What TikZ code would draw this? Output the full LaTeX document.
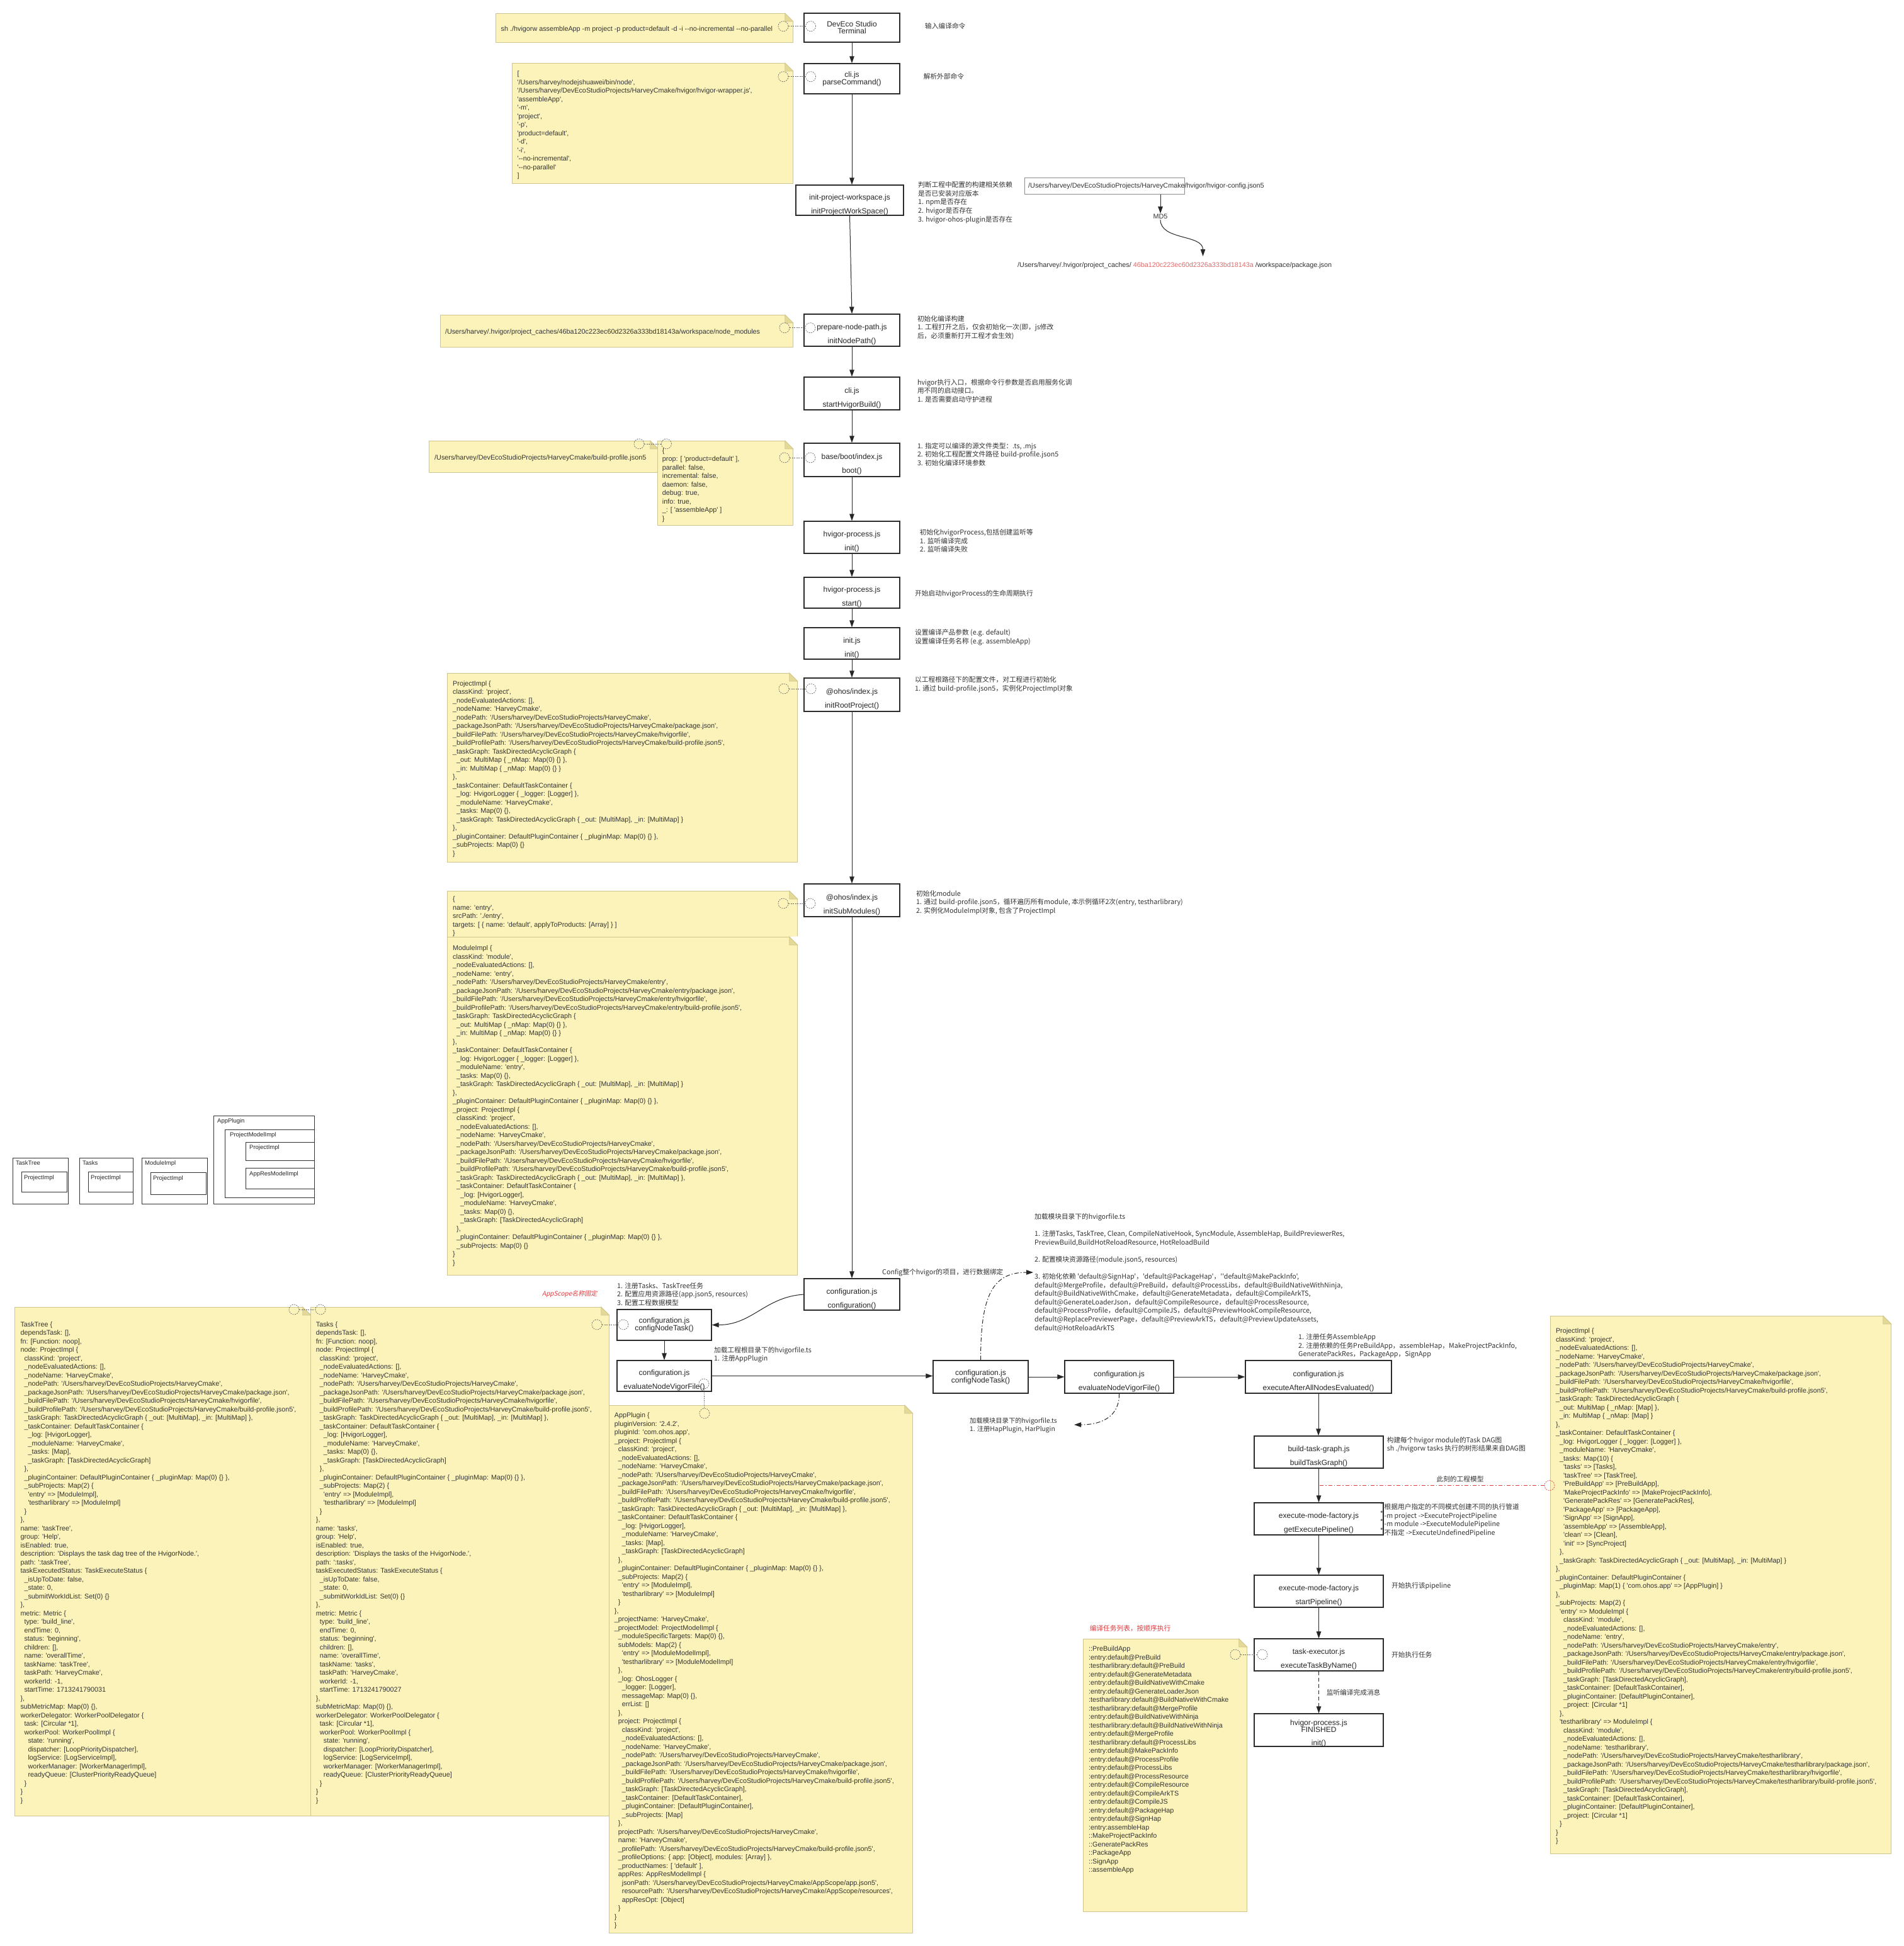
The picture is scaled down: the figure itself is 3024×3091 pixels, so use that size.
\documentclass[tikz,border=0pt]{standalone}
\usepackage{fontspec}
\newfontfamily\nf{Liberation Sans}
\newfontfamily\cjk{Noto Sans CJK SC}
\newfontfamily\cjki{Noto Sans CJK SC}[FakeSlant=0.2]
\usetikzlibrary{arrows.meta,calc}
\definecolor{notefill}{HTML}{FBF3BA}
\definecolor{noteedge}{HTML}{CFC58E}
\definecolor{notefold}{HTML}{E4D996}
\definecolor{boxc}{HTML}{2B2B2B}
\definecolor{redc}{HTML}{E0393E}
\definecolor{hashc}{HTML}{E26A6A}
\newcommand\ind{\hspace*{6pt}}
\newcommand\lo{\rule{0pt}{23pt}}
\tikzset{
 box/.style={draw=boxc, line width=1.3pt, fill=white, inner sep=0pt, align=center, font=\fontsize{12}{13}\nf, text=black!85},
 tight/.style={font=\fontsize{12}{11}\nf},
 notebg/.style={draw=noteedge, line width=0.8pt, fill=notefill, inner sep=0pt, rectangle},
 notetext/.style={anchor=north west, inner sep=0pt, align=left, font=\fontsize{10.8}{13.5}\nf, text=black!80},
 lbl/.style={anchor=north west, inner sep=0pt, align=left, font=\fontsize{10.7}{13.6}\cjk, text=black!80},
 arr/.style={draw=black!85, line width=1pt, -{Triangle[length=11pt,width=7.5pt]}},
 attach/.style={circle, draw=black!60, line width=0.7pt, dash pattern=on 2pt off 1.5pt, minimum size=16pt, inner sep=0pt},
 attline/.style={draw=black!60, line width=0.7pt, dash pattern=on 2pt off 1.5pt},
 dashdot/.style={draw=black!85, line width=1pt, dash pattern=on 7pt off 3pt on 1.5pt off 3pt},
 sbox/.style={draw=black!80, line width=0.9pt, fill=white, inner sep=0pt, rectangle},
 stitle/.style={anchor=north west, inner sep=0pt, font=\fontsize{9.5}{11}\nf, text=black!85},
}
% note background: name, x1, y1, x2, y2
\newcommand\notebox[5]{%
 \node[notebg, anchor=north west, minimum width={#4-#2}, minimum height={#5-#3}] (#1) at (#2,#3) {};
 \fill[white] ([xshift=-13pt]#1.north east) -- ([xshift=1pt,yshift=1pt]#1.north east) -- ([yshift=-13pt]#1.north east) -- cycle;
 \filldraw[fill=notefold, draw=noteedge, line width=0.8pt] ([xshift=-13pt]#1.north east) -- ([xshift=-13pt,yshift=-13pt]#1.north east) -- ([yshift=-13pt]#1.north east) -- cycle;
}
\begin{document}
\begin{tikzpicture}[x=1pt,y=-1pt]
\useasboundingbox (0,0) rectangle (3024,3091);
\fill[white] (0,0) rectangle (3024,3091);

% ================= notes =================
\notebox{nA}{787}{21}{1259}{67}
\node[notetext] (nAt) at (795.5,39.5) {\strut sh ./hvigorw assembleApp -m project -p product=default -d -i --no-incremental --no-parallel};

\notebox{nB}{813}{100}{1259}{291}
\node[notetext] (nBt) at (821.3,111) {\strut[\\
'/Users/harvey/nodejshuawei/bin/node',\\
'/Users/harvey/DevEcoStudioProjects/HarveyCmake/hvigor/hvigor-wrapper.js',\\
'assembleApp',\\
'-m',\\
'project',\\
'-p',\\
'product=default',\\
'-d',\\
'-i',\\
'--no-incremental',\\
'--no-parallel'\\
]};

\notebox{nC}{699}{500}{1259}{551}
\node[notetext] (nCt) at (706.8,521) {\strut/Users/harvey/.hvigor/project\_caches/46ba120c223ec60d2326a333bd18143a/workspace/node\_modules};

\notebox{nD}{681}{700}{1045}{750}
\node[notetext] (nDt) at (690,721) {\strut/Users/harvey/DevEcoStudioProjects/HarveyCmake/build-profile.json5};

\notebox{nE}{1044}{700}{1259}{834}
\node[notetext] (nEt) at (1051.7,709.5) {\strut\{\\
prop: [ 'product=default' ],\\
parallel: false,\\
incremental: false,\\
daemon: false,\\
debug: true,\\
info: true,\\
\_: [ 'assembleApp' ]\\
\}};

\notebox{nF}{710}{1069}{1266}{1369}
\node[notetext] (nFt) at (719,1079.5) {\strut ProjectImpl \{\\
classKind: 'project',\\
\_nodeEvaluatedActions: [],\\
\_nodeName: 'HarveyCmake',\\
\_nodePath: '/Users/harvey/DevEcoStudioProjects/HarveyCmake',\\
\_packageJsonPath: '/Users/harvey/DevEcoStudioProjects/HarveyCmake/package.json',\\
\_buildFilePath: '/Users/harvey/DevEcoStudioProjects/HarveyCmake/hvigorfile',\\
\_buildProfilePath: '/Users/harvey/DevEcoStudioProjects/HarveyCmake/build-profile.json5',\\
\_taskGraph: TaskDirectedAcyclicGraph \{\\
\ind\_out: MultiMap \{ \_nMap: Map(0) \{\} \},\\
\ind\_in: MultiMap \{ \_nMap: Map(0) \{\} \}\\
\},\\
\_taskContainer: DefaultTaskContainer \{\\
\ind\_log: HvigorLogger \{ \_logger: [Logger] \},\\
\ind\_moduleName: 'HarveyCmake',\\
\ind\_tasks: Map(0) \{\},\\
\ind\_taskGraph: TaskDirectedAcyclicGraph \{ \_out: [MultiMap], \_in: [MultiMap] \}\\
\},\\
\_pluginContainer: DefaultPluginContainer \{ \_pluginMap: Map(0) \{\} \},\\
\_subProjects: Map(0) \{\}\\
\}};

\notebox{nG}{710}{1415}{1266}{1488}
\node[notetext] (nGt) at (719,1422) {\strut\{\\
name: 'entry',\\
srcPath: './entry',\\
targets: [ \{ name: 'default', applyToProducts: [Array] \} ]\\
\}};

\notebox{nH}{710}{1488}{1266}{2025}
\node[notetext] (nHt) at (719,1500) {\strut ModuleImpl \{\\
classKind: 'module',\\
\_nodeEvaluatedActions: [],\\
\_nodeName: 'entry',\\
\_nodePath: '/Users/harvey/DevEcoStudioProjects/HarveyCmake/entry',\\
\_packageJsonPath: '/Users/harvey/DevEcoStudioProjects/HarveyCmake/entry/package.json',\\
\_buildFilePath: '/Users/harvey/DevEcoStudioProjects/HarveyCmake/entry/hvigorfile',\\
\_buildProfilePath: '/Users/harvey/DevEcoStudioProjects/HarveyCmake/entry/build-profile.json5',\\
\_taskGraph: TaskDirectedAcyclicGraph \{\\
\ind\_out: MultiMap \{ \_nMap: Map(0) \{\} \},\\
\ind\_in: MultiMap \{ \_nMap: Map(0) \{\} \}\\
\},\\
\_taskContainer: DefaultTaskContainer \{\\
\ind\_log: HvigorLogger \{ \_logger: [Logger] \},\\
\ind\_moduleName: 'entry',\\
\ind\_tasks: Map(0) \{\},\\
\ind\_taskGraph: TaskDirectedAcyclicGraph \{ \_out: [MultiMap], \_in: [MultiMap] \}\\
\},\\
\_pluginContainer: DefaultPluginContainer \{ \_pluginMap: Map(0) \{\} \},\\
\_project: ProjectImpl \{\\
\ind classKind: 'project',\\
\ind\_nodeEvaluatedActions: [],\\
\ind\_nodeName: 'HarveyCmake',\\
\ind\_nodePath: '/Users/harvey/DevEcoStudioProjects/HarveyCmake',\\
\ind\_packageJsonPath: '/Users/harvey/DevEcoStudioProjects/HarveyCmake/package.json',\\
\ind\_buildFilePath: '/Users/harvey/DevEcoStudioProjects/HarveyCmake/hvigorfile',\\
\ind\_buildProfilePath: '/Users/harvey/DevEcoStudioProjects/HarveyCmake/build-profile.json5',\\
\ind\_taskGraph: TaskDirectedAcyclicGraph \{ \_out: [MultiMap], \_in: [MultiMap] \},\\
\ind\_taskContainer: DefaultTaskContainer \{\\
\ind\ind\_log: [HvigorLogger],\\
\ind\ind\_moduleName: 'HarveyCmake',\\
\ind\ind\_tasks: Map(0) \{\},\\
\ind\ind\_taskGraph: [TaskDirectedAcyclicGraph]\\
\ind\},\\
\ind\_pluginContainer: DefaultPluginContainer \{ \_pluginMap: Map(0) \{\} \},\\
\ind\_subProjects: Map(0) \{\}\\
\}\\
\}};

\notebox{nI}{23}{2076}{493}{2884}
\node[notetext] (nIt) at (32.3,2097.4) {\strut TaskTree \{\\
dependsTask: [],\\
fn: [Function: noop],\\
node: ProjectImpl \{\\
\ind classKind: 'project',\\
\ind\_nodeEvaluatedActions: [],\\
\ind\_nodeName: 'HarveyCmake',\\
\ind\_nodePath: '/Users/harvey/DevEcoStudioProjects/HarveyCmake',\\
\ind\_packageJsonPath: '/Users/harvey/DevEcoStudioProjects/HarveyCmake/package.json',\\
\ind\_buildFilePath: '/Users/harvey/DevEcoStudioProjects/HarveyCmake/hvigorfile',\\
\ind\_buildProfilePath: '/Users/harvey/DevEcoStudioProjects/HarveyCmake/build-profile.json5',\\
\ind\_taskGraph: TaskDirectedAcyclicGraph \{ \_out: [MultiMap], \_in: [MultiMap] \},\\
\ind\_taskContainer: DefaultTaskContainer \{\\
\ind\ind\_log: [HvigorLogger],\\
\ind\ind\_moduleName: 'HarveyCmake',\\
\ind\ind\_tasks: [Map],\\
\ind\ind\_taskGraph: [TaskDirectedAcyclicGraph]\\
\ind\},\\
\ind\_pluginContainer: DefaultPluginContainer \{ \_pluginMap: Map(0) \{\} \},\\
\ind\_subProjects: Map(2) \{\\
\ind\ind'entry' => [ModuleImpl],\\
\ind\ind'testharlibrary' => [ModuleImpl]\\
\ind\}\\
\},\\
name: 'taskTree',\\
group: 'Help',\\
isEnabled: true,\\
description: 'Displays the task dag tree of the HvigorNode.',\\
path: ':taskTree',\\
taskExecutedStatus: TaskExecuteStatus \{\\
\ind\_isUpToDate: false,\\
\ind\_state: 0,\\
\ind\_submitWorkIdList: Set(0) \{\}\\
\},\\
metric: Metric \{\\
\ind type: 'build\_line',\\
\ind endTime: 0,\\
\ind status: 'beginning',\\
\ind children: [],\\
\ind name: 'overallTime',\\
\ind taskName: 'taskTree',\\
\ind taskPath: 'HarveyCmake',\\
\ind workerId: -1,\\
\ind startTime: 1713241790031\\
\},\\
subMetricMap: Map(0) \{\},\\
workerDelegator: WorkerPoolDelegator \{\\
\ind task: [Circular *1],\\
\ind workerPool: WorkerPoolImpl \{\\
\ind\ind state: 'running',\\
\ind\ind dispatcher: [LoopPriorityDispatcher],\\
\ind\ind logService: [LogServiceImpl],\\
\ind\ind workerManager: [WorkerManagerImpl],\\
\ind\ind readyQueue: [ClusterPriorityReadyQueue]\\
\ind\}\\
\}\\
\}};

\notebox{nJ}{493}{2076}{967}{2884}
\node[notetext] (nJt) at (501.7,2097.4) {\strut Tasks \{\\
dependsTask: [],\\
fn: [Function: noop],\\
node: ProjectImpl \{\\
\ind classKind: 'project',\\
\ind\_nodeEvaluatedActions: [],\\
\ind\_nodeName: 'HarveyCmake',\\
\ind\_nodePath: '/Users/harvey/DevEcoStudioProjects/HarveyCmake',\\
\ind\_packageJsonPath: '/Users/harvey/DevEcoStudioProjects/HarveyCmake/package.json',\\
\ind\_buildFilePath: '/Users/harvey/DevEcoStudioProjects/HarveyCmake/hvigorfile',\\
\ind\_buildProfilePath: '/Users/harvey/DevEcoStudioProjects/HarveyCmake/build-profile.json5',\\
\ind\_taskGraph: TaskDirectedAcyclicGraph \{ \_out: [MultiMap], \_in: [MultiMap] \},\\
\ind\_taskContainer: DefaultTaskContainer \{\\
\ind\ind\_log: [HvigorLogger],\\
\ind\ind\_moduleName: 'HarveyCmake',\\
\ind\ind\_tasks: Map(0) \{\},\\
\ind\ind\_taskGraph: [TaskDirectedAcyclicGraph]\\
\ind\},\\
\ind\_pluginContainer: DefaultPluginContainer \{ \_pluginMap: Map(0) \{\} \},\\
\ind\_subProjects: Map(2) \{\\
\ind\ind'entry' => [ModuleImpl],\\
\ind\ind'testharlibrary' => [ModuleImpl]\\
\ind\}\\
\},\\
name: 'tasks',\\
group: 'Help',\\
isEnabled: true,\\
description: 'Displays the tasks of the HvigorNode.',\\
path: ':tasks',\\
taskExecutedStatus: TaskExecuteStatus \{\\
\ind\_isUpToDate: false,\\
\ind\_state: 0,\\
\ind\_submitWorkIdList: Set(0) \{\}\\
\},\\
metric: Metric \{\\
\ind type: 'build\_line',\\
\ind endTime: 0,\\
\ind status: 'beginning',\\
\ind children: [],\\
\ind name: 'overallTime',\\
\ind taskName: 'tasks',\\
\ind taskPath: 'HarveyCmake',\\
\ind workerId: -1,\\
\ind startTime: 1713241790027\\
\},\\
subMetricMap: Map(0) \{\},\\
workerDelegator: WorkerPoolDelegator \{\\
\ind task: [Circular *1],\\
\ind workerPool: WorkerPoolImpl \{\\
\ind\ind state: 'running',\\
\ind\ind dispatcher: [LoopPriorityDispatcher],\\
\ind\ind logService: [LogServiceImpl],\\
\ind\ind workerManager: [WorkerManagerImpl],\\
\ind\ind readyQueue: [ClusterPriorityReadyQueue]\\
\ind\}\\
\}\\
\}};

\notebox{nK}{967}{2232}{1449}{3070}
\node[notetext] (nKt) at (975.7,2242) {\strut AppPlugin \{\\
pluginVersion: '2.4.2',\\
pluginId: 'com.ohos.app',\\
\_project: ProjectImpl \{\\
\ind classKind: 'project',\\
\ind\_nodeEvaluatedActions: [],\\
\ind\_nodeName: 'HarveyCmake',\\
\ind\_nodePath: '/Users/harvey/DevEcoStudioProjects/HarveyCmake',\\
\ind\_packageJsonPath: '/Users/harvey/DevEcoStudioProjects/HarveyCmake/package.json',\\
\ind\_buildFilePath: '/Users/harvey/DevEcoStudioProjects/HarveyCmake/hvigorfile',\\
\ind\_buildProfilePath: '/Users/harvey/DevEcoStudioProjects/HarveyCmake/build-profile.json5',\\
\ind\_taskGraph: TaskDirectedAcyclicGraph \{ \_out: [MultiMap], \_in: [MultiMap] \},\\
\ind\_taskContainer: DefaultTaskContainer \{\\
\ind\ind\_log: [HvigorLogger],\\
\ind\ind\_moduleName: 'HarveyCmake',\\
\ind\ind\_tasks: [Map],\\
\ind\ind\_taskGraph: [TaskDirectedAcyclicGraph]\\
\ind\},\\
\ind\_pluginContainer: DefaultPluginContainer \{ \_pluginMap: Map(0) \{\} \},\\
\ind\_subProjects: Map(2) \{\\
\ind\ind'entry' => [ModuleImpl],\\
\ind\ind'testharlibrary' => [ModuleImpl]\\
\ind\}\\
\},\\
\_projectName: 'HarveyCmake',\\
\_projectModel: ProjectModelImpl \{\\
\ind\_moduleSpecificTargets: Map(0) \{\},\\
\ind subModels: Map(2) \{\\
\ind\ind'entry' => [ModuleModelImpl],\\
\ind\ind'testharlibrary' => [ModuleModelImpl]\\
\ind\},\\
\ind\_log: OhosLogger \{\\
\ind\ind\_logger: [Logger],\\
\ind\ind messageMap: Map(0) \{\},\\
\ind\ind errList: []\\
\ind\},\\
\ind project: ProjectImpl \{\\
\ind\ind classKind: 'project',\\
\ind\ind\_nodeEvaluatedActions: [],\\
\ind\ind\_nodeName: 'HarveyCmake',\\
\ind\ind\_nodePath: '/Users/harvey/DevEcoStudioProjects/HarveyCmake',\\
\ind\ind\_packageJsonPath: '/Users/harvey/DevEcoStudioProjects/HarveyCmake/package.json',\\
\ind\ind\_buildFilePath: '/Users/harvey/DevEcoStudioProjects/HarveyCmake/hvigorfile',\\
\ind\ind\_buildProfilePath: '/Users/harvey/DevEcoStudioProjects/HarveyCmake/build-profile.json5',\\
\ind\ind\_taskGraph: [TaskDirectedAcyclicGraph],\\
\ind\ind\_taskContainer: [DefaultTaskContainer],\\
\ind\ind\_pluginContainer: [DefaultPluginContainer],\\
\ind\ind\_subProjects: [Map]\\
\ind\},\\
\ind projectPath: '/Users/harvey/DevEcoStudioProjects/HarveyCmake',\\
\ind name: 'HarveyCmake',\\
\ind\_profilePath: '/Users/harvey/DevEcoStudioProjects/HarveyCmake/build-profile.json5',\\
\ind\_profileOptions: \{ app: [Object], modules: [Array] \},\\
\ind\_productNames: [ 'default' ],\\
\ind appRes: AppResModelImpl \{\\
\ind\ind jsonPath: '/Users/harvey/DevEcoStudioProjects/HarveyCmake/AppScope/app.json5',\\
\ind\ind resourcePath: '/Users/harvey/DevEcoStudioProjects/HarveyCmake/AppScope/resources',\\
\ind\ind appResOpt: [Object]\\
\ind\}\\
\}\\
\}};

\notebox{nL}{2462}{2090}{3003}{2944}
\node[notetext] (nLt) at (2470.8,2108.2) {\strut ProjectImpl \{\\
classKind: 'project',\\
\_nodeEvaluatedActions: [],\\
\_nodeName: 'HarveyCmake',\\
\_nodePath: '/Users/harvey/DevEcoStudioProjects/HarveyCmake',\\
\_packageJsonPath: '/Users/harvey/DevEcoStudioProjects/HarveyCmake/package.json',\\
\_buildFilePath: '/Users/harvey/DevEcoStudioProjects/HarveyCmake/hvigorfile',\\
\_buildProfilePath: '/Users/harvey/DevEcoStudioProjects/HarveyCmake/build-profile.json5',\\
\_taskGraph: TaskDirectedAcyclicGraph \{\\
\ind\_out: MultiMap \{ \_nMap: [Map] \},\\
\ind\_in: MultiMap \{ \_nMap: [Map] \}\\
\},\\
\_taskContainer: DefaultTaskContainer \{\\
\ind\_log: HvigorLogger \{ \_logger: [Logger] \},\\
\ind\_moduleName: 'HarveyCmake',\\
\ind\_tasks: Map(10) \{\\
\ind\ind'tasks' => [Tasks],\\
\ind\ind'taskTree' => [TaskTree],\\
\ind\ind'PreBuildApp' => [PreBuildApp],\\
\ind\ind'MakeProjectPackInfo' => [MakeProjectPackInfo],\\
\ind\ind'GeneratePackRes' => [GeneratePackRes],\\
\ind\ind'PackageApp' => [PackageApp],\\
\ind\ind'SignApp' => [SignApp],\\
\ind\ind'assembleApp' => [AssembleApp],\\
\ind\ind'clean' => [Clean],\\
\ind\ind'init' => [SyncProject]\\
\ind\},\\
\ind\_taskGraph: TaskDirectedAcyclicGraph \{ \_out: [MultiMap], \_in: [MultiMap] \}\\
\},\\
\_pluginContainer: DefaultPluginContainer \{\\
\ind\_pluginMap: Map(1) \{ 'com.ohos.app' => [AppPlugin] \}\\
\},\\
\_subProjects: Map(2) \{\\
\ind'entry' => ModuleImpl \{\\
\ind\ind classKind: 'module',\\
\ind\ind\_nodeEvaluatedActions: [],\\
\ind\ind\_nodeName: 'entry',\\
\ind\ind\_nodePath: '/Users/harvey/DevEcoStudioProjects/HarveyCmake/entry',\\
\ind\ind\_packageJsonPath: '/Users/harvey/DevEcoStudioProjects/HarveyCmake/entry/package.json',\\
\ind\ind\_buildFilePath: '/Users/harvey/DevEcoStudioProjects/HarveyCmake/entry/hvigorfile',\\
\ind\ind\_buildProfilePath: '/Users/harvey/DevEcoStudioProjects/HarveyCmake/entry/build-profile.json5',\\
\ind\ind\_taskGraph: [TaskDirectedAcyclicGraph],\\
\ind\ind\_taskContainer: [DefaultTaskContainer],\\
\ind\ind\_pluginContainer: [DefaultPluginContainer],\\
\ind\ind\_project: [Circular *1]\\
\ind\},\\
\ind'testharlibrary' => ModuleImpl \{\\
\ind\ind classKind: 'module',\\
\ind\ind\_nodeEvaluatedActions: [],\\
\ind\ind\_nodeName: 'testharlibrary',\\
\ind\ind\_nodePath: '/Users/harvey/DevEcoStudioProjects/HarveyCmake/testharlibrary',\\
\ind\ind\_packageJsonPath: '/Users/harvey/DevEcoStudioProjects/HarveyCmake/testharlibrary/package.json',\\
\ind\ind\_buildFilePath: '/Users/harvey/DevEcoStudioProjects/HarveyCmake/testharlibrary/hvigorfile',\\
\ind\ind\_buildProfilePath: '/Users/harvey/DevEcoStudioProjects/HarveyCmake/testharlibrary/build-profile.json5',\\
\ind\ind\_taskGraph: [TaskDirectedAcyclicGraph],\\
\ind\ind\_taskContainer: [DefaultTaskContainer],\\
\ind\ind\_pluginContainer: [DefaultPluginContainer],\\
\ind\ind\_project: [Circular *1]\\
\ind\}\\
\}\\
\}};

\notebox{nM}{1720}{2603}{1980}{3036}
\node[notetext] (nMt) at (1729,2613) {\strut ::PreBuildApp\\
:entry:default@PreBuild\\
:testharlibrary:default@PreBuild\\
:entry:default@GenerateMetadata\\
:entry:default@BuildNativeWithCmake\\
:entry:default@GenerateLoaderJson\\
:testharlibrary:default@BuildNativeWithCmake\\
:testharlibrary:default@MergeProfile\\
:entry:default@BuildNativeWithNinja\\
:testharlibrary:default@BuildNativeWithNinja\\
:entry:default@MergeProfile\\
:testharlibrary:default@ProcessLibs\\
:entry:default@MakePackInfo\\
:entry:default@ProcessProfile\\
:entry:default@ProcessLibs\\
:entry:default@ProcessResource\\
:entry:default@CompileResource\\
:entry:default@CompileArkTS\\
:entry:default@CompileJS\\
:entry:default@PackageHap\\
:entry:default@SignHap\\
:entry:assembleHap\\
::MakeProjectPackInfo\\
::GeneratePackRes\\
::PackageApp\\
::SignApp\\
::assembleApp};

% ================= main column boxes =================
\node[box, tight, minimum width=152pt, minimum height=46pt] (term) at (1353,44) {DevEco Studio\\Terminal};
\node[box, tight, minimum width=152pt, minimum height=48pt] (parse) at (1353,125) {cli.js\\parseCommand()};
\node[box, minimum width=171pt, minimum height=48pt] (initws) at (1349.5,318) {\lo init-project-workspace.js\\[9pt]initProjectWorkSpace()};
\node[box, minimum width=152pt, minimum height=51pt] (prep) at (1353,524.5) {\lo prepare-node-path.js\\[9pt]initNodePath()};
\node[box, minimum width=152pt, minimum height=52pt] (start) at (1353,625) {\lo cli.js\\[9pt]startHvigorBuild()};
\node[box, minimum width=152pt, minimum height=53pt] (boot) at (1353,730.5) {\lo base/boot/index.js\\[9pt]boot()};
\node[box, minimum width=152pt, minimum height=51pt] (hpinit) at (1353,853.5) {\lo hvigor-process.js\\[9pt]init()};
\node[box, minimum width=152pt, minimum height=49pt] (hpstart) at (1353,941.5) {\lo hvigor-process.js\\[9pt]start()};
\node[box, minimum width=152pt, minimum height=50pt] (initjs) at (1353,1022) {\lo init.js\\[9pt]init()};
\node[box, minimum width=152pt, minimum height=53pt] (root) at (1353,1103.5) {\lo @ohos/index.js\\[9pt]initRootProject()};
\node[box, minimum width=152pt, minimum height=52pt] (sub) at (1353,1430) {\lo @ohos/index.js\\[9pt]initSubModules()};
\node[box, minimum width=152pt, minimum height=50pt] (conf) at (1353,2056) {\lo configuration.js\\[9pt]configuration()};

\node[box, tight, minimum width=150pt, minimum height=49pt] (cntL) at (1055,2104.5) {configuration.js\\configNodeTask()};
\node[box, minimum width=150pt, minimum height=49pt] (evlL) at (1055,2185.5) {\lo configuration.js\\[9pt]evaluateNodeVigorFile()};
\node[box, tight, minimum width=151pt, minimum height=52pt] (cntR) at (1557.5,2187) {configuration.js\\configNodeTask()};
\node[box, minimum width=173pt, minimum height=52pt] (evlR) at (1777.5,2187) {\lo configuration.js\\[9pt]evaluateNodeVigorFile()};
\node[box, minimum width=232pt, minimum height=52pt] (exaf) at (2094,2187) {\lo configuration.js\\[9pt]executeAfterAllNodesEvaluated()};
\node[box, minimum width=205pt, minimum height=51pt] (btg) at (2094.5,2306.5) {\lo build-task-graph.js\\[9pt]buildTaskGraph()};
\node[box, minimum width=205pt, minimum height=51pt] (gep) at (2094.5,2412.5) {\lo execute-mode-factory.js\\[9pt]getExecutePipeline()};
\node[box, minimum width=205pt, minimum height=51pt] (stp) at (2094.5,2527.5) {\lo execute-mode-factory.js\\[9pt]startPipeline()};
\node[box, minimum width=205pt, minimum height=51pt] (ext) at (2094.5,2628.5) {\lo task-executor.js\\[9pt]executeTaskByName()};
\node[box, tight, minimum width=205pt, minimum height=52pt] (fin) at (2094.5,2748) {};
\node[align=center, inner sep=0pt, font=\fontsize{12}{11}\nf, text=black!85] (fint) at (2094.5,2753) {hvigor-process.js\\FINISHED\\[10pt]init()};

% ================= MD5 area =================
\node[draw=black!45, line width=0.8pt, fill=white, minimum width=254pt, minimum height=26pt, inner sep=0pt] (cfg) at (1754.7,295.3) {};
\node[notetext, anchor=west] (cfgt) at (1633,295.7) {/Users/harvey/DevEcoStudioProjects/HarveyCmake/hvigor/hvigor-config.json5};
\node[inner sep=1pt, font=\fontsize{10.8}{13}\nf, text=black!80] (md5) at (1843,344) {MD5};
\node[notetext, anchor=west] (cache) at (1616,421.7) {/Users/harvey/.hvigor/project\_caches/ \textcolor{hashc}{46ba120c223ec60d2326a333bd18143a} /workspace/package.json};
\coordinate (cachetip) at (1910.5,407);

% ================= small class boxes (bottom left) =================
\node[sbox, anchor=north west, minimum width=88pt, minimum height=73pt] (sbTT) at (20,1839) {};
\node[stitle] (sbTTt) at (25,1843) {TaskTree};
\node[sbox, anchor=north west, minimum width=72pt, minimum height=32pt] (sbTTp) at (34,1861) {};
\node[stitle] (sbTTpt) at (38,1866) {ProjectImpl};
\node[sbox, anchor=north west, minimum width=85pt, minimum height=73pt] (sbTS) at (126,1839) {};
\node[stitle] (sbTSt) at (131,1843) {Tasks};
\node[sbox, anchor=north west, minimum width=71pt, minimum height=32pt] (sbTSp) at (140,1861) {};
\node[stitle] (sbTSpt) at (144,1866) {ProjectImpl};
\node[sbox, anchor=north west, minimum width=104pt, minimum height=73pt] (sbMI) at (225,1839) {};
\node[stitle] (sbMIt) at (230,1843) {ModuleImpl};
\node[sbox, anchor=north west, minimum width=88pt, minimum height=35pt] (sbMIp) at (239,1862) {};
\node[stitle] (sbMIpt) at (243,1867) {ProjectImpl};
\node[sbox, anchor=north west, minimum width=160pt, minimum height=140pt] (sbAP) at (339,1772) {};
\node[stitle] (sbAPt) at (345,1776) {AppPlugin};
\node[sbox, anchor=north west, minimum width=142pt, minimum height=108pt] (sbPM) at (357,1794) {};
\node[stitle] (sbPMt) at (365,1798) {ProjectModelImpl};
\node[sbox, anchor=north west, minimum width=109pt, minimum height=29pt] (sbPI) at (390,1814) {};
\node[stitle] (sbPIt) at (396,1818) {ProjectImpl};
\node[sbox, anchor=north west, minimum width=109pt, minimum height=33pt] (sbAR) at (390,1855) {};
\node[stitle] (sbARt) at (396,1860) {AppResModelImpl};

% ================= labels =================
\node[lbl] (l1) at (1469,36.2) {输入编译命令};
\node[lbl] (l2) at (1466.6,116) {解析外部命令};
\node[lbl] (l3) at (1458,288.5) {判断工程中配置的构建相关依赖\\是否已安装对应版本\\1. npm是否存在\\2. hvigor是否存在\\3. hvigor-ohos-plugin是否存在};
\node[lbl] (l4) at (1456.8,501) {初始化编译构建\\1. 工程打开之后，仅会初始化一次(即，js修改\\后，必须重新打开工程才会生效)};
\node[lbl] (l5) at (1456.8,602) {hvigor执行入口，根据命令行参数是否启用服务化调\\用不同的启动接口。\\1. 是否需要启动守护进程};
\node[lbl] (l6) at (1456.8,703) {1. 指定可以编译的源文件类型：.ts, .mjs\\2. 初始化工程配置文件路径 build-profile.json5\\3. 初始化编译环境参数};
\node[lbl] (l7) at (1460.6,840.5) {初始化hvigorProcess,包括创建监听等\\1. 监听编译完成\\2. 监听编译失败};
\node[lbl] (l8) at (1453,937) {开始启动hvigorProcess的生命周期执行};
\node[lbl] (l9) at (1453,999.5) {设置编译产品参数 (e.g. default)\\设置编译任务名称 (e.g. assembleApp)};
\node[lbl] (l10) at (1453,1074.5) {以工程根路径下的配置文件，对工程进行初始化\\1. 通过 build-profile.json5，实例化ProjectImpl对象};
\node[lbl] (l11) at (1455,1414) {初始化module\\1. 通过 build-profile.json5，循环遍历所有module, 本示例循环2次(entry, testharlibrary)\\2. 实例化ModuleImpl对象, 包含了ProjectImpl};
\node[lbl] (l12) at (1401,2015) {Config整个hvigor的项目，进行数据绑定};
\node[lbl] (l13) at (980,2037) {1. 注册Tasks、TaskTree任务\\2. 配置应用资源路径(app.json5, resources)\\3. 配置工程数据模型};
\node[anchor=north west, inner sep=0pt, font=\fontsize{10}{12}\cjki, text=redc] (l14) at (861,2050) {AppScope名称固定};
\node[lbl] (l15) at (1134,2139) {加载工程根目录下的hvigorfile.ts\\1. 注册AppPlugin};
\node[lbl] (l16) at (1643,1927) {加载模块目录下的hvigorfile.ts\\[13.6pt]1. 注册Tasks, TaskTree, Clean, CompileNativeHook, SyncModule, AssembleHap, BuildPreviewerRes,\\PreviewBuild,BuildHotReloadResource, HotReloadBuild\\[13.6pt]2. 配置模块资源路径(module.json5, resources)\\[13.6pt]3. 初始化依赖 'default@SignHap'，'default@PackageHap'，''default@MakePackInfo',\\default@MergeProfile，default@PreBuild，default@ProcessLibs，default@BuildNativeWithNinja,\\default@BuildNativeWithCmake，default@GenerateMetadata，default@CompileArkTS,\\default@GenerateLoaderJson，default@CompileResource，default@ProcessResource,\\default@ProcessProfile，default@CompileJS，default@PreviewHookCompileResource,\\default@ReplacePreviewerPage，default@PreviewArkTS，default@PreviewUpdateAssets,\\default@HotReloadArkTS};
\node[lbl, font=\fontsize{10.3}{12.7}\cjk] (l17) at (1540,2252) {加载模块目录下的hvigorfile.ts\\1. 注册HapPlugin, HarPlugin};
\node[lbl] (l18) at (2062,2118.5) {1. 注册任务AssembleApp\\2. 注册依赖的任务PreBuildApp，assembleHap，MakeProjectPackInfo,\\GeneratePackRes，PackageApp，SignApp};
\node[lbl] (l19) at (2202.6,2282) {构建每个hvigor module的Task DAG图\\sh ./hvigorw tasks 执行的树形结果来自DAG图};
\node[lbl, anchor=center] (l20) at (2319,2349.4) {此刻的工程模型};
\node[lbl, align=right, anchor=north east] (l21s) at (2197,2386) {*\\*\\*\\*};
\node[lbl] (l21) at (2198.5,2388.5) {根据用户指定的不同模式创建不同的执行管道\\-m project ->ExecuteProjectPipeline\\-m module ->ExecuteModulePipeline\\不指定 ->ExecuteUndefinedPipeline};
\node[lbl] (l22) at (2210,2513) {开始执行该pipeline};
\node[lbl] (l23) at (2210,2623) {开始执行任务};
\node[lbl] (l24) at (2106.6,2683) {监听编译完成消息};
\node[lbl, text=redc] (l25) at (1730.6,2581) {编译任务列表，按顺序执行};

% ================= arrows =================
\draw[arr] (term) -- (parse);
\draw[arr] (parse.south) -- (parse.south |- initws.north);
\draw[arr] (initws.south) -- (prep.north);
\draw[arr] (prep) -- (start);
\draw[arr] (start) -- (boot);
\draw[arr] (boot) -- (hpinit);
\draw[arr] (hpinit) -- (hpstart);
\draw[arr] (hpstart) -- (initjs);
\draw[arr] (initjs) -- (root);
\draw[arr] (root) -- (sub);
\draw[arr] (sub) -- (conf);
\draw[arr] (conf.west) .. controls (1215,2060) and (1195,2104.5) .. (cntL.east);
\draw[arr] (cntL) -- (evlL);
\draw[arr] (evlL.east) -- (evlL.east -| cntR.west);
\draw[arr] (cntR) -- (evlR);
\draw[arr] (evlR) -- (exaf);
\draw[arr] (exaf.south) -- (exaf.south |- btg.north);
\draw[arr] (btg) -- (gep);
\draw[arr] (gep) -- (stp);
\draw[arr] (stp) -- (ext);
\draw[arr, dash pattern=on 6pt off 4pt] (ext) -- (fin);
\draw[arr] (cfg.south -| md5) -- (md5.north);
\draw[arr] (md5.south) .. controls (1843,382) and (1910.5,372) .. (cachetip);
\coordinate (bigtip) at (1641,2021);
\coordinate (evrtip) at (1706,2263);
\draw[dashdot, -{Triangle[length=11pt,width=7.5pt]}] (cntR.north) .. controls (1557.5,2060) and (1575,2021) .. (bigtip);
\draw[dashdot, -{Triangle[length=11pt,width=7.5pt]}] (evlR.south) .. controls (1778,2250) and (1750,2263) .. (evrtip);

% ================= attachments =================
\node[attach] (a1) at (1244,41.7) {};   \node[attach] (b1) at (1287.5,41.7) {};
\node[attach] (a2) at (1244,121.7) {};  \node[attach] (b2) at (1287.5,121.7) {};
\node[attach] (a3) at (1246,520.7) {};  \node[attach] (b3) at (1287,520.7) {};
\node[attach] (a4) at (1015,705) {};    \node[attach] (b4) at (1058.4,705) {};
\node[attach] (a5) at (1246,727) {};    \node[attach] (b5) at (1287,727) {};
\node[attach] (a6) at (1245,1094) {};   \node[attach] (b6) at (1288,1094) {};
\node[attach] (a7) at (1244,1435) {};   \node[attach] (b7) at (1287,1435) {};
\node[attach] (a8) at (467,2080) {};    \node[attach] (b8) at (509,2080) {};
\node[attach] (a9) at (948,2104) {};    \node[attach] (b9) at (990,2104) {};
\node[attach] (a10) at (1118,2198) {};  \node[attach] (b10) at (1119,2245) {};
\node[attach] (a11) at (1962,2628) {};  \node[attach] (b11) at (2005,2628) {};
\foreach \i in {1,...,11} {\draw[attline] (a\i) -- (b\i);}
\node[attach, draw=redc] (c12) at (2461,2359.5) {};
\coordinate (redstart) at (2096,2359.5);
\draw[redc, line width=0.9pt, dash pattern=on 6pt off 3pt on 1.5pt off 3pt] (redstart) -- (c12);
\end{tikzpicture}
\end{document}
